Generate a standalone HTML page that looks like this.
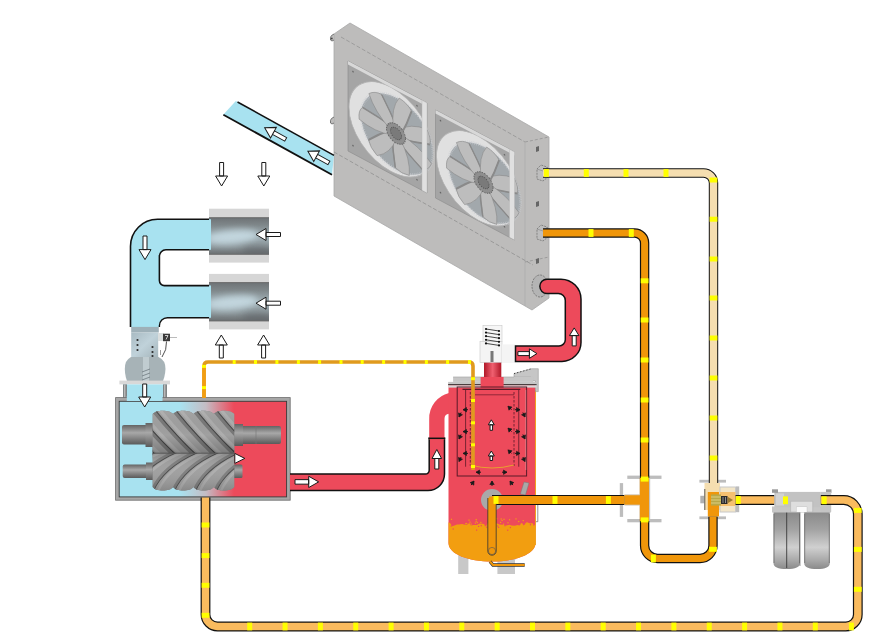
<!DOCTYPE html>
<html><head><meta charset="utf-8"><style>
html,body{margin:0;padding:0;background:#fff;width:880px;height:640px;overflow:hidden}
svg{display:block}
</style></head><body>
<svg width="880" height="640" viewBox="0 0 880 640">
<defs>
<linearGradient id="hgrad" x1="115" x2="290" y1="0" y2="0" gradientUnits="userSpaceOnUse">
<stop offset="0" stop-color="#a8e2f0"/><stop offset="0.37" stop-color="#a8e2f0"/>
<stop offset="0.52" stop-color="#c4bcc4"/><stop offset="0.68" stop-color="#ed4a5b"/><stop offset="1" stop-color="#ed4a5b"/>
</linearGradient>
<linearGradient id="rotor" x1="0" x2="0" y1="0" y2="1">
<stop offset="0" stop-color="#747474"/><stop offset="0.35" stop-color="#9c9c9c"/><stop offset="0.7" stop-color="#707070"/><stop offset="1" stop-color="#5a5a5a"/>
</linearGradient>
<linearGradient id="shaft" x1="0" x2="0" y1="0" y2="1">
<stop offset="0" stop-color="#646464"/><stop offset="0.4" stop-color="#a8a8a8"/><stop offset="1" stop-color="#5a5a5a"/>
</linearGradient>
<linearGradient id="filt" x1="0" x2="0" y1="0" y2="1">
<stop offset="0" stop-color="#6e7376"/><stop offset="0.2" stop-color="#7f878a"/><stop offset="0.5" stop-color="#a2b2b8"/><stop offset="0.8" stop-color="#8a9498"/><stop offset="1" stop-color="#6a6e70"/>
</linearGradient>
<linearGradient id="can" x1="0" x2="0" y1="0" y2="1">
<stop offset="0" stop-color="#8a8a8a"/><stop offset="0.3" stop-color="#a2a2a2"/><stop offset="0.62" stop-color="#d0d0d0"/><stop offset="0.85" stop-color="#a8a8a8"/><stop offset="1" stop-color="#8a8a8a"/>
</linearGradient>
<linearGradient id="valv" x1="0" x2="1" y1="0" y2="1">
<stop offset="0" stop-color="#a8bac2"/><stop offset="0.5" stop-color="#c0d2da"/><stop offset="1" stop-color="#a4b4ba"/>
</linearGradient>
<linearGradient id="redcyl" x1="0" x2="1" y1="0" y2="0">
<stop offset="0" stop-color="#b01828"/><stop offset="0.5" stop-color="#f06070"/><stop offset="1" stop-color="#b01828"/>
</linearGradient>
<linearGradient id="rshade" x1="0" x2="0" y1="0" y2="1">
<stop offset="0" stop-color="#fff" stop-opacity="0.12"/><stop offset="0.6" stop-color="#000" stop-opacity="0"/><stop offset="1" stop-color="#000" stop-opacity="0.25"/>
</linearGradient>
<linearGradient id="rshade2" x1="0" x2="0" y1="0" y2="1">
<stop offset="0" stop-color="#000" stop-opacity="0.2"/><stop offset="0.4" stop-color="#fff" stop-opacity="0.05"/><stop offset="1" stop-color="#000" stop-opacity="0.2"/>
</linearGradient>
<filter id="blur3" x="-50%" y="-50%" width="200%" height="200%"><feGaussianBlur stdDeviation="3"/></filter>
</defs>
<polygon points="334,34 350,23 549,137 549,298 532,310 334,196" fill="#bdbcbb"/>
<polyline points="334,34 350,23 549,137 549,298 532,310 334,196 334,34" fill="none" stroke="#a8a8a8" stroke-width="0.8"/>
<line x1="341" y1="37" x2="525" y2="142" stroke="#8e8e8e" stroke-width="0.7" stroke-dasharray="4,2"/>
<line x1="525" y1="142" x2="549" y2="137" stroke="#8e8e8e" stroke-width="0.7" stroke-dasharray="3,2"/>
<line x1="525" y1="142" x2="525" y2="306" stroke="#acacac" stroke-width="0.8"/>
<line x1="334" y1="152" x2="533" y2="265" stroke="#8a8a8a" stroke-width="0.7" stroke-dasharray="4,2"/>
<line x1="525" y1="262" x2="549" y2="257" stroke="#8e8e8e" stroke-width="0.7" stroke-dasharray="3,2"/>
<path d="M334,34 L331.5,35.5 Q330,37 330.5,40 L332,41 L334,40" fill="#bdbcbb" stroke="#6a6a6a" stroke-width="0.9"/>
<circle cx="331.8" cy="38.5" r="0.9" fill="#444"/>
<path d="M334,117 L331.5,118.5 Q330,120 330.5,123 L332,124 L334,123" fill="#bdbcbb" stroke="#6a6a6a" stroke-width="0.9"/>
<g transform="translate(348,61) skewY(28)"><rect x="0" y="0" width="79" height="90" fill="#a5a5a5" stroke="#8e8e8e" stroke-width="0.6"/><circle cx="5" cy="8" r="0.8" fill="#666"/><circle cx="5" cy="82" r="0.8" fill="#666"/><circle cx="69" cy="8" r="0.8" fill="#666"/><circle cx="69" cy="82" r="0.8" fill="#666"/><circle cx="39.5" cy="4" r="0.8" fill="#666"/><circle cx="43" cy="45.5" r="42" fill="#e0e0e0" stroke="#b4b4b4" stroke-width="0.8"/><circle cx="49" cy="47.0" r="36" fill="#a2a8ac"/><circle cx="49" cy="47.0" r="36" fill="none" stroke="#c8ccd0" stroke-width="3" stroke-dasharray="1,1.2" opacity="0.6"/><path d="M3,-4 Q18.900000000000002,-14 35.28,-12 Q37.800000000000004,-4 34.44,2 Q18.900000000000002,4 3,4 Z" fill="#bdbdbd" stroke="#858585" stroke-width="0.5" transform="translate(48,47.0) rotate(-15.0)"/><path d="M3,4 Q18.900000000000002,4 34.44,2" fill="none" stroke="#8a8a8a" stroke-width="1.6" transform="translate(48,47.0) rotate(-15.0)"/><path d="M3,-4 Q18.900000000000002,-14 35.28,-12 Q37.800000000000004,-4 34.44,2 Q18.900000000000002,4 3,4 Z" fill="#bdbdbd" stroke="#858585" stroke-width="0.5" transform="translate(48,47.0) rotate(36.42857142857143)"/><path d="M3,4 Q18.900000000000002,4 34.44,2" fill="none" stroke="#8a8a8a" stroke-width="1.6" transform="translate(48,47.0) rotate(36.42857142857143)"/><path d="M3,-4 Q18.900000000000002,-14 35.28,-12 Q37.800000000000004,-4 34.44,2 Q18.900000000000002,4 3,4 Z" fill="#bdbdbd" stroke="#858585" stroke-width="0.5" transform="translate(48,47.0) rotate(87.85714285714286)"/><path d="M3,4 Q18.900000000000002,4 34.44,2" fill="none" stroke="#8a8a8a" stroke-width="1.6" transform="translate(48,47.0) rotate(87.85714285714286)"/><path d="M3,-4 Q18.900000000000002,-14 35.28,-12 Q37.800000000000004,-4 34.44,2 Q18.900000000000002,4 3,4 Z" fill="#bdbdbd" stroke="#858585" stroke-width="0.5" transform="translate(48,47.0) rotate(139.28571428571428)"/><path d="M3,4 Q18.900000000000002,4 34.44,2" fill="none" stroke="#8a8a8a" stroke-width="1.6" transform="translate(48,47.0) rotate(139.28571428571428)"/><path d="M3,-4 Q18.900000000000002,-14 35.28,-12 Q37.800000000000004,-4 34.44,2 Q18.900000000000002,4 3,4 Z" fill="#bdbdbd" stroke="#858585" stroke-width="0.5" transform="translate(48,47.0) rotate(190.71428571428572)"/><path d="M3,4 Q18.900000000000002,4 34.44,2" fill="none" stroke="#8a8a8a" stroke-width="1.6" transform="translate(48,47.0) rotate(190.71428571428572)"/><path d="M3,-4 Q18.900000000000002,-14 35.28,-12 Q37.800000000000004,-4 34.44,2 Q18.900000000000002,4 3,4 Z" fill="#bdbdbd" stroke="#858585" stroke-width="0.5" transform="translate(48,47.0) rotate(242.14285714285717)"/><path d="M3,4 Q18.900000000000002,4 34.44,2" fill="none" stroke="#8a8a8a" stroke-width="1.6" transform="translate(48,47.0) rotate(242.14285714285717)"/><path d="M3,-4 Q18.900000000000002,-14 35.28,-12 Q37.800000000000004,-4 34.44,2 Q18.900000000000002,4 3,4 Z" fill="#bdbdbd" stroke="#858585" stroke-width="0.5" transform="translate(48,47.0) rotate(293.57142857142856)"/><path d="M3,4 Q18.900000000000002,4 34.44,2" fill="none" stroke="#8a8a8a" stroke-width="1.6" transform="translate(48,47.0) rotate(293.57142857142856)"/><circle cx="48" cy="47.0" r="9.5" fill="#8e8e8e" stroke="#666" stroke-width="1" stroke-dasharray="1.5,1"/><circle cx="48" cy="47.0" r="5.5" fill="#7a7a7a" stroke="#4e4e4e" stroke-width="0.9" stroke-dasharray="1,1"/><rect x="0" y="0" width="79" height="3.5" fill="#d8d8d8"/><rect x="74" y="0" width="5" height="90" fill="#e0e0e0" stroke="#b8b8b8" stroke-width="0.4"/></g>
<g transform="translate(435.5,110) skewY(28)"><rect x="0" y="0" width="79" height="88" fill="#a5a5a5" stroke="#8e8e8e" stroke-width="0.6"/><circle cx="5" cy="8" r="0.8" fill="#666"/><circle cx="5" cy="80" r="0.8" fill="#666"/><circle cx="69" cy="8" r="0.8" fill="#666"/><circle cx="69" cy="80" r="0.8" fill="#666"/><circle cx="39.5" cy="4" r="0.8" fill="#666"/><circle cx="43" cy="45.5" r="42" fill="#e0e0e0" stroke="#b4b4b4" stroke-width="0.8"/><circle cx="49" cy="47.0" r="36" fill="#a2a8ac"/><circle cx="49" cy="47.0" r="36" fill="none" stroke="#c8ccd0" stroke-width="3" stroke-dasharray="1,1.2" opacity="0.6"/><path d="M3,-4 Q18.900000000000002,-14 35.28,-12 Q37.800000000000004,-4 34.44,2 Q18.900000000000002,4 3,4 Z" fill="#bdbdbd" stroke="#858585" stroke-width="0.5" transform="translate(48,47.0) rotate(-15.0)"/><path d="M3,4 Q18.900000000000002,4 34.44,2" fill="none" stroke="#8a8a8a" stroke-width="1.6" transform="translate(48,47.0) rotate(-15.0)"/><path d="M3,-4 Q18.900000000000002,-14 35.28,-12 Q37.800000000000004,-4 34.44,2 Q18.900000000000002,4 3,4 Z" fill="#bdbdbd" stroke="#858585" stroke-width="0.5" transform="translate(48,47.0) rotate(36.42857142857143)"/><path d="M3,4 Q18.900000000000002,4 34.44,2" fill="none" stroke="#8a8a8a" stroke-width="1.6" transform="translate(48,47.0) rotate(36.42857142857143)"/><path d="M3,-4 Q18.900000000000002,-14 35.28,-12 Q37.800000000000004,-4 34.44,2 Q18.900000000000002,4 3,4 Z" fill="#bdbdbd" stroke="#858585" stroke-width="0.5" transform="translate(48,47.0) rotate(87.85714285714286)"/><path d="M3,4 Q18.900000000000002,4 34.44,2" fill="none" stroke="#8a8a8a" stroke-width="1.6" transform="translate(48,47.0) rotate(87.85714285714286)"/><path d="M3,-4 Q18.900000000000002,-14 35.28,-12 Q37.800000000000004,-4 34.44,2 Q18.900000000000002,4 3,4 Z" fill="#bdbdbd" stroke="#858585" stroke-width="0.5" transform="translate(48,47.0) rotate(139.28571428571428)"/><path d="M3,4 Q18.900000000000002,4 34.44,2" fill="none" stroke="#8a8a8a" stroke-width="1.6" transform="translate(48,47.0) rotate(139.28571428571428)"/><path d="M3,-4 Q18.900000000000002,-14 35.28,-12 Q37.800000000000004,-4 34.44,2 Q18.900000000000002,4 3,4 Z" fill="#bdbdbd" stroke="#858585" stroke-width="0.5" transform="translate(48,47.0) rotate(190.71428571428572)"/><path d="M3,4 Q18.900000000000002,4 34.44,2" fill="none" stroke="#8a8a8a" stroke-width="1.6" transform="translate(48,47.0) rotate(190.71428571428572)"/><path d="M3,-4 Q18.900000000000002,-14 35.28,-12 Q37.800000000000004,-4 34.44,2 Q18.900000000000002,4 3,4 Z" fill="#bdbdbd" stroke="#858585" stroke-width="0.5" transform="translate(48,47.0) rotate(242.14285714285717)"/><path d="M3,4 Q18.900000000000002,4 34.44,2" fill="none" stroke="#8a8a8a" stroke-width="1.6" transform="translate(48,47.0) rotate(242.14285714285717)"/><path d="M3,-4 Q18.900000000000002,-14 35.28,-12 Q37.800000000000004,-4 34.44,2 Q18.900000000000002,4 3,4 Z" fill="#bdbdbd" stroke="#858585" stroke-width="0.5" transform="translate(48,47.0) rotate(293.57142857142856)"/><path d="M3,4 Q18.900000000000002,4 34.44,2" fill="none" stroke="#8a8a8a" stroke-width="1.6" transform="translate(48,47.0) rotate(293.57142857142856)"/><circle cx="48" cy="47.0" r="9.5" fill="#8e8e8e" stroke="#666" stroke-width="1" stroke-dasharray="1.5,1"/><circle cx="48" cy="47.0" r="5.5" fill="#7a7a7a" stroke="#4e4e4e" stroke-width="0.9" stroke-dasharray="1,1"/><rect x="0" y="0" width="79" height="3.5" fill="#d8d8d8"/><rect x="74" y="0" width="5" height="88" fill="#e0e0e0" stroke="#b8b8b8" stroke-width="0.4"/></g>
<path d="M537,169 L541,165 L547,167 L548,177 L543,181 L537,179 Z" fill="#bdbdbd" stroke="#6a6a6a" stroke-width="0.7" stroke-dasharray="2,1"/>
<path d="M537,169 L543,171 L548,167" fill="none" stroke="#7a7a7a" stroke-width="0.5"/>
<path d="M537,229 L541,225 L547,227 L548,237 L543,241 L537,239 Z" fill="#bdbdbd" stroke="#6a6a6a" stroke-width="0.7" stroke-dasharray="2,1"/>
<path d="M537,229 L543,231 L548,227" fill="none" stroke="#7a7a7a" stroke-width="0.5"/>
<ellipse cx="540" cy="286" rx="8" ry="11" fill="#b4b4b4" stroke="#6a6a6a" stroke-width="0.8" stroke-dasharray="2,1"/>
<path d="M536,147 l3,-1 v5 l-3,1 z" fill="#666"/>
<path d="M536,202 l3,-1 v5 l-3,1 z" fill="#666"/>
<path d="M536,259 l3,-1 v5 l-3,1 z" fill="#666"/>
<polygon points="223.2,114.7 235.8,101.1 334,155 332,174.7" fill="#a8e2f0"/>
<line x1="237.5" y1="102" x2="334" y2="155.3" stroke="#111" stroke-width="1.5"/>
<line x1="223.4" y1="114.7" x2="332" y2="174.7" stroke="#111" stroke-width="1.8"/>
<path d="M0,0 L-10,-6.0 L-10,6.0 Z M-10,-2.0 L-24,-2.0 L-24,2.0 L-10,2.0 Z" transform="translate(264.7,127.8) rotate(208.95873278293766)" fill="#fff" stroke="#1a1a1a" stroke-width="1" stroke-linejoin="miter"/>
<path d="M0,0 L-10,-6.0 L-10,6.0 Z M-10,-2.0 L-24,-2.0 L-24,2.0 L-10,2.0 Z" transform="translate(307.9,151.3) rotate(208.95873278293766)" fill="#fff" stroke="#1a1a1a" stroke-width="1" stroke-linejoin="miter"/>
<clipPath id="fc208"><rect x="209" y="217.7" width="60" height="36.70000000000002"/></clipPath>
<rect x="209" y="208.7" width="60" height="53.900000000000034" fill="#d6d6d6"/>
<rect x="209" y="217.7" width="60" height="36.70000000000002" fill="url(#filt)"/>
<g clip-path="url(#fc208)"><ellipse cx="232" cy="237.05" rx="26" ry="7" fill="#c8dce4" opacity="0.85" filter="url(#blur3)" transform="rotate(-6 232 236.05)"/><ellipse cx="258" cy="251.4" rx="16" ry="5" fill="#5e6468" opacity="0.6" filter="url(#blur3)"/></g>
<line x1="209" y1="217.7" x2="269" y2="217.7" stroke="#5a5a5a" stroke-width="0.8"/>
<line x1="209" y1="254.4" x2="269" y2="254.4" stroke="#6a6a6a" stroke-width="0.8"/>
<clipPath id="fc273"><rect x="209" y="282.6" width="60" height="38.39999999999998"/></clipPath>
<rect x="209" y="273.9" width="60" height="55.5" fill="#d6d6d6"/>
<rect x="209" y="282.6" width="60" height="38.39999999999998" fill="url(#filt)"/>
<g clip-path="url(#fc273)"><ellipse cx="232" cy="302.8" rx="26" ry="7" fill="#c8dce4" opacity="0.85" filter="url(#blur3)" transform="rotate(-6 232 301.8)"/><ellipse cx="258" cy="318" rx="16" ry="5" fill="#5e6468" opacity="0.6" filter="url(#blur3)"/></g>
<line x1="209" y1="282.6" x2="269" y2="282.6" stroke="#5a5a5a" stroke-width="0.8"/>
<line x1="209" y1="321" x2="269" y2="321" stroke="#6a6a6a" stroke-width="0.8"/>
<path d="M211,219.3 H157.5 A27,27 0 0 0 130.5,246.3 V327 H159.4 V325.7 A8,8 0 0 1 167.4,317.7 H211 V285.6 H164.4 A5,5 0 0 1 159.4,280.6 V256.3 A6.5,6.5 0 0 1 165.9,249.8 H211 Z" fill="#a8e2f0"/>
<path d="M209,219.3 H157.5 A27,27 0 0 0 130.5,246.3 V327" fill="none" stroke="#111" stroke-width="1.6"/>
<path d="M209,249.8 H165.9 A6.5,6.5 0 0 0 159.4,256.3 V280.6 A5,5 0 0 0 164.4,285.6 H209" fill="none" stroke="#111" stroke-width="1.6"/>
<path d="M159.4,327 V325.7 A8,8 0 0 1 167.4,317.7 H209" fill="none" stroke="#111" stroke-width="1.4"/>
<path d="M0,0 L-10,-6.0 L-10,6.0 Z M-10,-2.0 L-23.5,-2.0 L-23.5,2.0 L-10,2.0 Z" transform="translate(221.6,186) rotate(90)" fill="#fff" stroke="#1a1a1a" stroke-width="1" stroke-linejoin="miter"/>
<path d="M0,0 L-10,-6.0 L-10,6.0 Z M-10,-2.0 L-23.5,-2.0 L-23.5,2.0 L-10,2.0 Z" transform="translate(263.8,186) rotate(90)" fill="#fff" stroke="#1a1a1a" stroke-width="1" stroke-linejoin="miter"/>
<path d="M0,0 L-10,-6.0 L-10,6.0 Z M-10,-2.0 L-23,-2.0 L-23,2.0 L-10,2.0 Z" transform="translate(221.3,335) rotate(-90)" fill="#fff" stroke="#1a1a1a" stroke-width="1" stroke-linejoin="miter"/>
<path d="M0,0 L-10,-6.0 L-10,6.0 Z M-10,-2.0 L-23,-2.0 L-23,2.0 L-10,2.0 Z" transform="translate(263.6,335) rotate(-90)" fill="#fff" stroke="#1a1a1a" stroke-width="1" stroke-linejoin="miter"/>
<path d="M0,0 L-10,-6.0 L-10,6.0 Z M-10,-2.0 L-24.5,-2.0 L-24.5,2.0 L-10,2.0 Z" transform="translate(256,234.5) rotate(180)" fill="#fff" stroke="#1a1a1a" stroke-width="1" stroke-linejoin="miter"/>
<path d="M0,0 L-10,-6.0 L-10,6.0 Z M-10,-2.0 L-24.5,-2.0 L-24.5,2.0 L-10,2.0 Z" transform="translate(256,303.2) rotate(180)" fill="#fff" stroke="#1a1a1a" stroke-width="1" stroke-linejoin="miter"/>
<path d="M0,0 L-10,-6.0 L-10,6.0 Z M-10,-2.0 L-23.6,-2.0 L-23.6,2.0 L-10,2.0 Z" transform="translate(145,259.6) rotate(90)" fill="#fff" stroke="#1a1a1a" stroke-width="1" stroke-linejoin="miter"/>
<rect x="131.2" y="326.9" width="27.6" height="5.6" fill="#9eb0b8"/>
<rect x="131.2" y="332.5" width="27" height="25" fill="url(#valv)"/>
<path d="M131,357 H158.5 Q165.5,360 165.5,369 Q165,378 161.5,384 H128.5 Q125,378 124.8,369 Q124.8,360 131,357 Z" fill="#a7b3b7"/>
<path d="M143,357 H149 V384 H143 Z" fill="#c0ccd0"/>
<path d="M142,372 l8,-3 M142,376 l8,-3 M142,380 l8,-3" stroke="#6e7a80" stroke-width="0.8"/>
<circle cx="137.5" cy="340" r="1.1" fill="#2a2a2a"/>
<circle cx="137.5" cy="345" r="1.1" fill="#2a2a2a"/>
<circle cx="137.5" cy="350" r="1.1" fill="#2a2a2a"/>
<circle cx="152.5" cy="347" r="1.1" fill="#2a2a2a"/>
<circle cx="152.5" cy="352" r="1.1" fill="#2a2a2a"/>
<circle cx="152.5" cy="356" r="1.1" fill="#2a2a2a"/>
<rect x="158" y="333" width="5.8" height="8" fill="#dadede"/><rect x="163" y="333.7" width="7" height="7.5" fill="#3a3a3a"/>
<path d="M165,335.5 h3 l-2,4" fill="none" stroke="#eee" stroke-width="0.8"/><path d="M170,337.5 h7" stroke="#bbb" stroke-width="1"/>
<path d="M166.5,341.5 Q167,350 162,357" fill="none" stroke="#222" stroke-width="0.8"/>
<path d="M160.5,350 v5" stroke="#555" stroke-width="0.6"/>
<rect x="119.4" y="380.6" width="50.6" height="3.8" fill="#d8d8d8"/>
<rect x="123.1" y="384.4" width="43.8" height="16" fill="#a8e2f0"/>
<rect x="123.1" y="384.4" width="3.8" height="15" fill="#7a7a7a"/><rect x="163.1" y="384.4" width="3.8" height="15" fill="#7a7a7a"/>
<rect x="124.2" y="384.4" width="1.2" height="15" fill="#c8c8c8"/><rect x="164.2" y="384.4" width="1.2" height="15" fill="#c8c8c8"/>
<rect x="115.6" y="397.6" width="174.6" height="102.6" fill="#a6a6a6" stroke="#6e6e6e" stroke-width="0.8"/>
<rect x="119.2" y="401.3" width="167.4" height="95.6" fill="url(#hgrad)" stroke="#3a3a3a" stroke-width="0.9"/>
<rect x="126.8" y="396" width="35.7" height="5" fill="#a8e2f0"/>
<path d="M0,0 L-10,-6.0 L-10,6.0 Z M-10,-2.0 L-23,-2.0 L-23,2.0 L-10,2.0 Z" transform="translate(144.7,407) rotate(90)" fill="#fff" stroke="#1a1a1a" stroke-width="1" stroke-linejoin="miter"/>
<rect x="122" y="425" width="26" height="19.5" rx="2" fill="url(#shaft)"/>
<rect x="145.5" y="423" width="8" height="24" fill="url(#shaft)"/>
<rect x="240" y="426" width="41" height="18" rx="2" fill="url(#shaft)"/>
<rect x="233" y="424" width="10" height="22" fill="url(#shaft)"/>
<line x1="256" y1="426" x2="256" y2="444" stroke="#777" stroke-width="0.6"/>
<rect x="122.7" y="464.5" width="26" height="13.5" rx="2" fill="url(#shaft)"/>
<rect x="146" y="462.5" width="7" height="17.5" fill="url(#shaft)"/>
<rect x="233" y="464.5" width="9.5" height="13.5" rx="1.5" fill="url(#shaft)"/>
<clipPath id="rc1"><path d="M152.7,414 C155.75625,409.5 170.01874999999998,409.5 173.075,414 C176.13125,409.5 190.39374999999998,409.5 193.45,414 C196.50625,409.5 210.76874999999998,409.5 213.825,414 C216.88125,409.5 231.14374999999998,409.5 234.2,414 V453.5 H152.7 Z"/></clipPath>
<clipPath id="rc2"><path d="M152.7,453 H234.2 V487 C231.14374999999998,491.8 216.88125,491.8 213.825,487 C210.76874999999998,491.8 196.50625,491.8 193.45,487 C190.39374999999998,491.8 176.13125,491.8 173.075,487 C170.01874999999998,491.8 155.75625,491.8 152.7,487 Z"/></clipPath>
<path d="M152.7,414 C155.75625,409.5 170.01874999999998,409.5 173.075,414 C176.13125,409.5 190.39374999999998,409.5 193.45,414 C196.50625,409.5 210.76874999999998,409.5 213.825,414 C216.88125,409.5 231.14374999999998,409.5 234.2,414 V453.5 H152.7 Z" fill="#808080"/>
<path d="M152.7,453 H234.2 V487 C231.14374999999998,491.8 216.88125,491.8 213.825,487 C210.76874999999998,491.8 196.50625,491.8 193.45,487 C190.39374999999998,491.8 176.13125,491.8 173.075,487 C170.01874999999998,491.8 155.75625,491.8 152.7,487 Z" fill="#7c7c7c"/>
<g clip-path="url(#rc1)"><path d="M91.5,406 C101.5,418 115.5,436 137.5,456 L157.5,456 C135.5,436 121.5,418 111.5,406 Z" fill="#a0a0a0"/><path d="M95.5,406 C105.5,418 119.5,436 141.5,456" fill="none" stroke="#b4b4b4" stroke-width="3" opacity="0.7"/><path d="M111.5,406 C121.5,418 135.5,436 157.5,456" fill="none" stroke="#5e5e5e" stroke-width="8" opacity="0.6"/><path d="M111.5,406 C121.5,418 135.5,436 157.5,456" fill="none" stroke="#444" stroke-width="1.8"/><path d="M111.89999999999999,406 C121.89999999999999,418 135.89999999999998,436 157.89999999999998,456 L177.89999999999998,456 C155.89999999999998,436 141.89999999999998,418 131.89999999999998,406 Z" fill="#a0a0a0"/><path d="M115.89999999999999,406 C125.89999999999999,418 139.89999999999998,436 161.89999999999998,456" fill="none" stroke="#b4b4b4" stroke-width="3" opacity="0.7"/><path d="M131.89999999999998,406 C141.89999999999998,418 155.89999999999998,436 177.89999999999998,456" fill="none" stroke="#5e5e5e" stroke-width="8" opacity="0.6"/><path d="M131.89999999999998,406 C141.89999999999998,418 155.89999999999998,436 177.89999999999998,456" fill="none" stroke="#444" stroke-width="1.8"/><path d="M132.29999999999998,406 C142.29999999999998,418 156.29999999999998,436 178.29999999999998,456 L198.29999999999998,456 C176.29999999999998,436 162.29999999999998,418 152.29999999999998,406 Z" fill="#a0a0a0"/><path d="M136.29999999999998,406 C146.29999999999998,418 160.29999999999998,436 182.29999999999998,456" fill="none" stroke="#b4b4b4" stroke-width="3" opacity="0.7"/><path d="M152.29999999999998,406 C162.29999999999998,418 176.29999999999998,436 198.29999999999998,456" fill="none" stroke="#5e5e5e" stroke-width="8" opacity="0.6"/><path d="M152.29999999999998,406 C162.29999999999998,418 176.29999999999998,436 198.29999999999998,456" fill="none" stroke="#444" stroke-width="1.8"/><path d="M152.7,406 C162.7,418 176.7,436 198.7,456 L218.7,456 C196.7,436 182.7,418 172.7,406 Z" fill="#a0a0a0"/><path d="M156.7,406 C166.7,418 180.7,436 202.7,456" fill="none" stroke="#b4b4b4" stroke-width="3" opacity="0.7"/><path d="M172.7,406 C182.7,418 196.7,436 218.7,456" fill="none" stroke="#5e5e5e" stroke-width="8" opacity="0.6"/><path d="M172.7,406 C182.7,418 196.7,436 218.7,456" fill="none" stroke="#444" stroke-width="1.8"/><path d="M173.1,406 C183.1,418 197.1,436 219.1,456 L239.1,456 C217.1,436 203.1,418 193.1,406 Z" fill="#a0a0a0"/><path d="M177.1,406 C187.1,418 201.1,436 223.1,456" fill="none" stroke="#b4b4b4" stroke-width="3" opacity="0.7"/><path d="M193.1,406 C203.1,418 217.1,436 239.1,456" fill="none" stroke="#5e5e5e" stroke-width="8" opacity="0.6"/><path d="M193.1,406 C203.1,418 217.1,436 239.1,456" fill="none" stroke="#444" stroke-width="1.8"/><path d="M193.5,406 C203.5,418 217.5,436 239.5,456 L259.5,456 C237.5,436 223.5,418 213.5,406 Z" fill="#a0a0a0"/><path d="M197.5,406 C207.5,418 221.5,436 243.5,456" fill="none" stroke="#b4b4b4" stroke-width="3" opacity="0.7"/><path d="M213.5,406 C223.5,418 237.5,436 259.5,456" fill="none" stroke="#5e5e5e" stroke-width="8" opacity="0.6"/><path d="M213.5,406 C223.5,418 237.5,436 259.5,456" fill="none" stroke="#444" stroke-width="1.8"/><path d="M213.89999999999998,406 C223.89999999999998,418 237.89999999999998,436 259.9,456 L279.9,456 C257.9,436 243.89999999999998,418 233.89999999999998,406 Z" fill="#a0a0a0"/><path d="M217.89999999999998,406 C227.89999999999998,418 241.89999999999998,436 263.9,456" fill="none" stroke="#b4b4b4" stroke-width="3" opacity="0.7"/><path d="M233.89999999999998,406 C243.89999999999998,418 257.9,436 279.9,456" fill="none" stroke="#5e5e5e" stroke-width="8" opacity="0.6"/><path d="M233.89999999999998,406 C243.89999999999998,418 257.9,436 279.9,456" fill="none" stroke="#444" stroke-width="1.8"/><path d="M234.29999999999998,406 C244.29999999999998,418 258.29999999999995,436 280.29999999999995,456 L300.29999999999995,456 C278.29999999999995,436 264.29999999999995,418 254.29999999999998,406 Z" fill="#a0a0a0"/><path d="M238.29999999999998,406 C248.29999999999998,418 262.29999999999995,436 284.29999999999995,456" fill="none" stroke="#b4b4b4" stroke-width="3" opacity="0.7"/><path d="M254.29999999999998,406 C264.29999999999995,418 278.29999999999995,436 300.29999999999995,456" fill="none" stroke="#5e5e5e" stroke-width="8" opacity="0.6"/><path d="M254.29999999999998,406 C264.29999999999995,418 278.29999999999995,436 300.29999999999995,456" fill="none" stroke="#444" stroke-width="1.8"/><path d="M254.7,406 C264.7,418 278.7,436 300.7,456 L320.7,456 C298.7,436 284.7,418 274.7,406 Z" fill="#a0a0a0"/><path d="M258.7,406 C268.7,418 282.7,436 304.7,456" fill="none" stroke="#b4b4b4" stroke-width="3" opacity="0.7"/><path d="M274.7,406 C284.7,418 298.7,436 320.7,456" fill="none" stroke="#5e5e5e" stroke-width="8" opacity="0.6"/><path d="M274.7,406 C284.7,418 298.7,436 320.7,456" fill="none" stroke="#444" stroke-width="1.8"/><rect x="150" y="405" width="90" height="50" fill="url(#rshade)"/></g>
<g clip-path="url(#rc2)"><path d="M89.69999999999999,494 C95.69999999999999,478 111.69999999999999,462 139.7,451 L160.7,451 C132.7,462 116.69999999999999,478 110.69999999999999,494 Z" fill="#9c9c9c"/><path d="M93.69999999999999,494 C99.69999999999999,478 115.69999999999999,462 143.7,451" fill="none" stroke="#b2b2b2" stroke-width="2.5" opacity="0.7"/><path d="M110.69999999999999,494 C116.69999999999999,478 132.7,462 160.7,451" fill="none" stroke="#5e5e5e" stroke-width="7" opacity="0.55"/><path d="M110.69999999999999,494 C116.69999999999999,478 132.7,462 160.7,451" fill="none" stroke="#444" stroke-width="1.6"/><path d="M110.69999999999999,494 C116.69999999999999,478 132.7,462 160.7,451 L181.7,451 C153.7,462 137.7,478 131.7,494 Z" fill="#9c9c9c"/><path d="M114.69999999999999,494 C120.69999999999999,478 136.7,462 164.7,451" fill="none" stroke="#b2b2b2" stroke-width="2.5" opacity="0.7"/><path d="M131.7,494 C137.7,478 153.7,462 181.7,451" fill="none" stroke="#5e5e5e" stroke-width="7" opacity="0.55"/><path d="M131.7,494 C137.7,478 153.7,462 181.7,451" fill="none" stroke="#444" stroke-width="1.6"/><path d="M131.7,494 C137.7,478 153.7,462 181.7,451 L202.7,451 C174.7,462 158.7,478 152.7,494 Z" fill="#9c9c9c"/><path d="M135.7,494 C141.7,478 157.7,462 185.7,451" fill="none" stroke="#b2b2b2" stroke-width="2.5" opacity="0.7"/><path d="M152.7,494 C158.7,478 174.7,462 202.7,451" fill="none" stroke="#5e5e5e" stroke-width="7" opacity="0.55"/><path d="M152.7,494 C158.7,478 174.7,462 202.7,451" fill="none" stroke="#444" stroke-width="1.6"/><path d="M152.7,494 C158.7,478 174.7,462 202.7,451 L223.7,451 C195.7,462 179.7,478 173.7,494 Z" fill="#9c9c9c"/><path d="M156.7,494 C162.7,478 178.7,462 206.7,451" fill="none" stroke="#b2b2b2" stroke-width="2.5" opacity="0.7"/><path d="M173.7,494 C179.7,478 195.7,462 223.7,451" fill="none" stroke="#5e5e5e" stroke-width="7" opacity="0.55"/><path d="M173.7,494 C179.7,478 195.7,462 223.7,451" fill="none" stroke="#444" stroke-width="1.6"/><path d="M173.7,494 C179.7,478 195.7,462 223.7,451 L244.7,451 C216.7,462 200.7,478 194.7,494 Z" fill="#9c9c9c"/><path d="M177.7,494 C183.7,478 199.7,462 227.7,451" fill="none" stroke="#b2b2b2" stroke-width="2.5" opacity="0.7"/><path d="M194.7,494 C200.7,478 216.7,462 244.7,451" fill="none" stroke="#5e5e5e" stroke-width="7" opacity="0.55"/><path d="M194.7,494 C200.7,478 216.7,462 244.7,451" fill="none" stroke="#444" stroke-width="1.6"/><path d="M194.7,494 C200.7,478 216.7,462 244.7,451 L265.7,451 C237.7,462 221.7,478 215.7,494 Z" fill="#9c9c9c"/><path d="M198.7,494 C204.7,478 220.7,462 248.7,451" fill="none" stroke="#b2b2b2" stroke-width="2.5" opacity="0.7"/><path d="M215.7,494 C221.7,478 237.7,462 265.7,451" fill="none" stroke="#5e5e5e" stroke-width="7" opacity="0.55"/><path d="M215.7,494 C221.7,478 237.7,462 265.7,451" fill="none" stroke="#444" stroke-width="1.6"/><path d="M215.7,494 C221.7,478 237.7,462 265.7,451 L286.7,451 C258.7,462 242.7,478 236.7,494 Z" fill="#9c9c9c"/><path d="M219.7,494 C225.7,478 241.7,462 269.7,451" fill="none" stroke="#b2b2b2" stroke-width="2.5" opacity="0.7"/><path d="M236.7,494 C242.7,478 258.7,462 286.7,451" fill="none" stroke="#5e5e5e" stroke-width="7" opacity="0.55"/><path d="M236.7,494 C242.7,478 258.7,462 286.7,451" fill="none" stroke="#444" stroke-width="1.6"/><path d="M236.7,494 C242.7,478 258.7,462 286.7,451 L307.7,451 C279.7,462 263.7,478 257.7,494 Z" fill="#9c9c9c"/><path d="M240.7,494 C246.7,478 262.7,462 290.7,451" fill="none" stroke="#b2b2b2" stroke-width="2.5" opacity="0.7"/><path d="M257.7,494 C263.7,478 279.7,462 307.7,451" fill="none" stroke="#5e5e5e" stroke-width="7" opacity="0.55"/><path d="M257.7,494 C263.7,478 279.7,462 307.7,451" fill="none" stroke="#444" stroke-width="1.6"/><path d="M257.7,494 C263.7,478 279.7,462 307.7,451 L328.7,451 C300.7,462 284.7,478 278.7,494 Z" fill="#9c9c9c"/><path d="M261.7,494 C267.7,478 283.7,462 311.7,451" fill="none" stroke="#b2b2b2" stroke-width="2.5" opacity="0.7"/><path d="M278.7,494 C284.7,478 300.7,462 328.7,451" fill="none" stroke="#5e5e5e" stroke-width="7" opacity="0.55"/><path d="M278.7,494 C284.7,478 300.7,462 328.7,451" fill="none" stroke="#444" stroke-width="1.6"/><rect x="150" y="450" width="90" height="45" fill="url(#rshade2)"/></g>
<line x1="152.7" y1="453.2" x2="234.2" y2="453.2" stroke="#555" stroke-width="1"/>
<path d="M0,0 L-10,-5.0 L-10,5.0 Z" transform="translate(244.8,458.4) rotate(0)" fill="#fff" stroke="#1a1a1a" stroke-width="1" stroke-linejoin="miter"/>
<path d="M290,474 H425.5 A3.7,3.7 0 0 0 429.2,470.3 V438.3 H444.5 V474 A16.5,16.5 0 0 1 428,490.5 H290 Z" fill="#ed4a5b"/>
<path d="M290,474 H425.5 A3.7,3.7 0 0 0 429.2,470.3 V438.3 H444.5 V474 A16.5,16.5 0 0 1 428,490.5 H290" fill="none" stroke="#111" stroke-width="1.5"/>
<path d="M429.2,439.5 V419 A26,26 0 0 1 449,393 V413.7 A5,5 0 0 0 444.5,418.7 V439.5 Z" fill="#ed4a5b"/>
<line x1="428.5" y1="438.3" x2="445.2" y2="438.3" stroke="#111" stroke-width="1.5"/>
<path d="M0,0 L-10,-5.65 L-10,5.65 Z M-10,-2.25 L-23.7,-2.25 L-23.7,2.25 L-10,2.25 Z" transform="translate(318.7,481.9) rotate(0)" fill="#fff" stroke="#1a1a1a" stroke-width="1" stroke-linejoin="miter"/>
<path d="M0,0 L-9,-4.75 L-9,4.75 Z M-9,-2.0 L-19.5,-2.0 L-19.5,2.0 L-9,2.0 Z" transform="translate(436.8,449.5) rotate(-90)" fill="#fff" stroke="#1a1a1a" stroke-width="1" stroke-linejoin="miter"/>
<rect x="458.2" y="552" width="10.2" height="22" fill="#c8c8c8"/><rect x="497.4" y="555" width="17.6" height="19" fill="#c8c8c8"/>
<path d="M497.4,557 l3,-3 l2,3 l6,-4 l3,4 l4,-5 V560 H497.4 Z" fill="#c8c8c8"/>
<path d="M448.5,384 H535.5 V543 C535.5,554 516,561.5 492,561.5 C468,561.5 448.5,554 448.5,543 Z" fill="#ed4a5b"/>
<clipPath id="tankc"><path d="M448.5,384 H535.5 V543 C535.5,554 516,561.5 492,561.5 C468,561.5 448.5,554 448.5,543 Z"/></clipPath>
<g clip-path="url(#tankc)"><path d="M440,526 L440.0,522.8 L442.6,523.4 L445.3,524.6 L446.9,521.9 L450.1,522.9 L452.1,526.2 L454.5,525.5 L457.0,524.6 L458.8,524.6 L462.0,524.1 L465.0,524.8 L466.6,525.1 L469.3,523.1 L470.9,525.6 L473.3,525.0 L476.6,524.9 L479.9,523.5 L483.0,523.8 L486.4,525.7 L488.1,522.4 L490.0,526.0 L492.4,524.6 L494.5,524.0 L496.7,523.3 L499.4,524.4 L502.7,524.8 L506.1,525.6 L509.6,524.8 L511.4,525.6 L514.8,525.8 L517.5,524.9 L519.4,525.5 L522.0,523.1 L523.7,525.6 L527.1,522.2 L530.2,523.6 L532.0,523.1 L535.1,525.6 L536.7,524.5 L538.3,525.0 L540.4,525.7 L543.9,524.0 L546,524 V570 H440 Z" fill="#f29e10"/>
<g clip-path="url(#tankc)"><rect x="475.6" y="518.9" width="1.2" height="1.2" fill="#f29e10"/><rect x="500.6" y="518.4" width="1.2" height="1.2" fill="#f29e10"/><rect x="466.0" y="522.9" width="1.2" height="1.2" fill="#f29e10"/><rect x="501.5" y="519.9" width="1.2" height="1.2" fill="#f29e10"/><rect x="452.6" y="528.4" width="1.2" height="1.2" fill="#ed4a5b"/><rect x="476.0" y="529.5" width="1.2" height="1.2" fill="#ed4a5b"/><rect x="526.1" y="522.5" width="1.2" height="1.2" fill="#f29e10"/><rect x="488.6" y="524.2" width="1.2" height="1.2" fill="#ed4a5b"/><rect x="504.4" y="525.1" width="1.2" height="1.2" fill="#ed4a5b"/><rect x="497.1" y="525.4" width="1.2" height="1.2" fill="#ed4a5b"/><rect x="529.9" y="524.1" width="1.2" height="1.2" fill="#ed4a5b"/><rect x="486.1" y="526.6" width="1.2" height="1.2" fill="#ed4a5b"/><rect x="469.4" y="521.6" width="1.2" height="1.2" fill="#f29e10"/><rect x="533.1" y="524.3" width="1.2" height="1.2" fill="#ed4a5b"/><rect x="496.2" y="518.1" width="1.2" height="1.2" fill="#f29e10"/><rect x="484.7" y="525.0" width="1.2" height="1.2" fill="#ed4a5b"/><rect x="450.7" y="525.4" width="1.2" height="1.2" fill="#ed4a5b"/><rect x="503.4" y="518.7" width="1.2" height="1.2" fill="#f29e10"/><rect x="503.0" y="523.6" width="1.2" height="1.2" fill="#f29e10"/><rect x="507.4" y="522.2" width="1.2" height="1.2" fill="#f29e10"/><rect x="509.8" y="526.9" width="1.2" height="1.2" fill="#ed4a5b"/><rect x="450.9" y="518.7" width="1.2" height="1.2" fill="#f29e10"/><rect x="507.1" y="529.6" width="1.2" height="1.2" fill="#ed4a5b"/><rect x="470.6" y="523.5" width="1.2" height="1.2" fill="#f29e10"/><rect x="500.0" y="521.8" width="1.2" height="1.2" fill="#f29e10"/><rect x="480.3" y="521.8" width="1.2" height="1.2" fill="#f29e10"/><rect x="480.7" y="525.1" width="1.2" height="1.2" fill="#ed4a5b"/><rect x="474.8" y="522.5" width="1.2" height="1.2" fill="#f29e10"/><rect x="515.4" y="518.3" width="1.2" height="1.2" fill="#f29e10"/><rect x="498.0" y="526.8" width="1.2" height="1.2" fill="#ed4a5b"/><rect x="475.7" y="520.7" width="1.2" height="1.2" fill="#f29e10"/><rect x="518.1" y="520.9" width="1.2" height="1.2" fill="#f29e10"/><rect x="465.1" y="523.2" width="1.2" height="1.2" fill="#f29e10"/><rect x="509.0" y="519.2" width="1.2" height="1.2" fill="#f29e10"/><rect x="476.7" y="522.0" width="1.2" height="1.2" fill="#f29e10"/><rect x="520.7" y="523.3" width="1.2" height="1.2" fill="#f29e10"/><rect x="522.6" y="520.0" width="1.2" height="1.2" fill="#f29e10"/><rect x="478.0" y="525.8" width="1.2" height="1.2" fill="#ed4a5b"/><rect x="525.1" y="523.4" width="1.2" height="1.2" fill="#f29e10"/><rect x="468.4" y="519.5" width="1.2" height="1.2" fill="#f29e10"/></g></g>
<line x1="535.5" y1="390" x2="535.5" y2="545" stroke="#f0a020" stroke-width="1"/>
<path d="M490,561.5 L493,565 H524.7" fill="none" stroke="#333" stroke-width="3.4"/>
<path d="M490,561.5 L493,565 H524.7" fill="none" stroke="#f0960a" stroke-width="2"/>
<path d="M514,373.6 L531.6,368.7 H538.3 V391.6 H535.5 V381 H531 V377.2 H514 Z" fill="#c6c6c6" stroke="#8a8a8a" stroke-width="0.5"/>
<path d="M514,373.6 L531.6,368.7" stroke="#333" stroke-width="0.9" stroke-dasharray="1.2,2"/>
<rect x="453.1" y="376.9" width="80" height="5" fill="#c6c6c6"/>
<rect x="448.1" y="381.9" width="88.5" height="2.3" fill="#c6c6c6"/>
<rect x="448.1" y="384.1" width="88.5" height="1.2" fill="#3a3a3a"/>
<rect x="448.1" y="385.3" width="88.5" height="2.3" fill="#d8d8d8"/>
<line x1="453.1" y1="377" x2="514" y2="377" stroke="#9a9a9a" stroke-width="0.5"/>
<rect x="480.6" y="377" width="23" height="11" fill="#ed4a5b"/>
<rect x="484" y="362" width="17.3" height="15" fill="url(#redcyl)"/>
<rect x="480" y="341.3" width="22" height="21" fill="#f4f4f4" stroke="#c8c8c8" stroke-width="0.6"/>
<rect x="483" y="325.6" width="19" height="16" fill="#f6f6f6" stroke="#c8c8c8" stroke-width="0.6"/>
<path d="M486,329.0 L499,331.0" stroke="#333" stroke-width="0.9"/><circle cx="486" cy="329.0" r="1.1" fill="#111"/><circle cx="499" cy="331.0" r="1.1" fill="#111"/>
<path d="M486,332.6 L499,334.6" stroke="#333" stroke-width="0.9"/><circle cx="486" cy="332.6" r="1.1" fill="#111"/><circle cx="499" cy="334.6" r="1.1" fill="#111"/>
<path d="M486,336.2 L499,338.2" stroke="#333" stroke-width="0.9"/><circle cx="486" cy="336.2" r="1.1" fill="#111"/><circle cx="499" cy="338.2" r="1.1" fill="#111"/>
<path d="M486,339.8 L499,341.8" stroke="#333" stroke-width="0.9"/><circle cx="486" cy="339.8" r="1.1" fill="#111"/><circle cx="499" cy="341.8" r="1.1" fill="#111"/>
<path d="M486,343.4 L499,345.4" stroke="#333" stroke-width="0.9"/><circle cx="486" cy="343.4" r="1.1" fill="#111"/><circle cx="499" cy="345.4" r="1.1" fill="#111"/>
<rect x="490.5" y="351" width="3" height="11" fill="#777"/>
<rect x="502" y="344.4" width="13.6" height="18.6" fill="#f4f4f4"/>
<path d="M547,279.2 H561 A20,20 0 0 1 581,299.2 V342.4 A19,19 0 0 1 562,361.4 H515.5 V346 H559 A6.3,6.3 0 0 0 565.3,339.7 V300.5 A7,7 0 0 0 558.3,293.5 H547 A7,7 0 0 1 547,279.2 Z" fill="#ed4a5b" stroke="#111" stroke-width="1.5"/>
<path d="M0,0 L-7.5,-4.75 L-7.5,4.75 Z M-7.5,-2.0 L-19,-2.0 L-19,2.0 L-7.5,2.0 Z" transform="translate(536.9,353.6) rotate(0)" fill="#fff" stroke="#1a1a1a" stroke-width="1" stroke-linejoin="miter"/>
<path d="M0,0 L-7.7,-4.75 L-7.7,4.75 Z M-7.7,-2.0 L-18,-2.0 L-18,2.0 L-7.7,2.0 Z" transform="translate(574.2,327.9) rotate(-90)" fill="#fff" stroke="#1a1a1a" stroke-width="1" stroke-linejoin="miter"/>
<rect x="457.2" y="387" width="69.4" height="89" fill="none" stroke="#5a1a28" stroke-width="1"/>
<path d="M462.5,389.4 H520.3" stroke="#5a1a28" stroke-width="1.2"/>
<path d="M475,394.8 H514" stroke="#7a2030" stroke-width="0.8"/>
<path d="M465.6,390 V466.7 M518.75,390 V466.7" fill="none" stroke="#6a1e2c" stroke-width="0.9"/>
<path d="M470.3,392 V466 M514,392 V466" fill="none" stroke="#6a1e2c" stroke-width="0.9" stroke-dasharray="2.5,1.5"/>
<path d="M525.8,390 V470" fill="none" stroke="#d89aa0" stroke-width="0.6"/>
<path d="M470.3,465 Q492,471 514,465" fill="none" stroke="#e8a030" stroke-width="1"/>
<path d="M0,0 L-5,-3.0 L-5,3.0 Z M-5,-1.25 L-10.5,-1.25 L-10.5,1.25 L-5,1.25 Z" transform="translate(491.3,419.8) rotate(-90)" fill="#fff" stroke="#1a1a1a" stroke-width="1" stroke-linejoin="miter"/>
<path d="M0,0 L-5,-3.0 L-5,3.0 Z M-5,-1.25 L-9.5,-1.25 L-9.5,1.25 L-5,1.25 Z" transform="translate(491.3,451) rotate(-90)" fill="#fff" stroke="#1a1a1a" stroke-width="1" stroke-linejoin="miter"/>
<path d="M0,0 L-3.5,-2.2 L-3.5,2.2 Z" transform="translate(463,409.7) rotate(180)" fill="#1a1a1a" stroke="#1a1a1a" stroke-width="0.6"/><line x1="463" y1="409.7" x2="468.0" y2="409.7" stroke="#1a1a1a" stroke-width="1"/>
<path d="M0,0 L-3.5,-2.2 L-3.5,2.2 Z" transform="translate(520,409.7) rotate(0)" fill="#1a1a1a" stroke="#1a1a1a" stroke-width="0.6"/><line x1="520" y1="409.7" x2="515.0" y2="409.7" stroke="#1a1a1a" stroke-width="1"/>
<path d="M0,0 L-3.5,-2.2 L-3.5,2.2 Z" transform="translate(508,406.2) rotate(-135)" fill="#1a1a1a" stroke="#1a1a1a" stroke-width="0.6"/><line x1="508" y1="406.2" x2="511.5" y2="409.7" stroke="#1a1a1a" stroke-width="1"/>
<path d="M0,0 L-3.5,-2.2 L-3.5,2.2 Z" transform="translate(463,431.6) rotate(180)" fill="#1a1a1a" stroke="#1a1a1a" stroke-width="0.6"/><line x1="463" y1="431.6" x2="468.0" y2="431.6" stroke="#1a1a1a" stroke-width="1"/>
<path d="M0,0 L-3.5,-2.2 L-3.5,2.2 Z" transform="translate(520,431.6) rotate(0)" fill="#1a1a1a" stroke="#1a1a1a" stroke-width="0.6"/><line x1="520" y1="431.6" x2="515.0" y2="431.6" stroke="#1a1a1a" stroke-width="1"/>
<path d="M0,0 L-3.5,-2.2 L-3.5,2.2 Z" transform="translate(508,428.1) rotate(-135)" fill="#1a1a1a" stroke="#1a1a1a" stroke-width="0.6"/><line x1="508" y1="428.1" x2="511.5" y2="431.6" stroke="#1a1a1a" stroke-width="1"/>
<path d="M0,0 L-3.5,-2.2 L-3.5,2.2 Z" transform="translate(463,453.4) rotate(180)" fill="#1a1a1a" stroke="#1a1a1a" stroke-width="0.6"/><line x1="463" y1="453.4" x2="468.0" y2="453.4" stroke="#1a1a1a" stroke-width="1"/>
<path d="M0,0 L-3.5,-2.2 L-3.5,2.2 Z" transform="translate(520,453.4) rotate(0)" fill="#1a1a1a" stroke="#1a1a1a" stroke-width="0.6"/><line x1="520" y1="453.4" x2="515.0" y2="453.4" stroke="#1a1a1a" stroke-width="1"/>
<path d="M0,0 L-3.5,-2.2 L-3.5,2.2 Z" transform="translate(508,449.9) rotate(-135)" fill="#1a1a1a" stroke="#1a1a1a" stroke-width="0.6"/><line x1="508" y1="449.9" x2="511.5" y2="453.4" stroke="#1a1a1a" stroke-width="1"/>
<path d="M0,0 L-3.5,-2.2 L-3.5,2.2 Z" transform="translate(459,417) rotate(115)" fill="#1a1a1a" stroke="#1a1a1a" stroke-width="0.6"/><line x1="459" y1="417" x2="461.1" y2="412.5" stroke="#1a1a1a" stroke-width="1"/>
<path d="M0,0 L-3.5,-2.2 L-3.5,2.2 Z" transform="translate(525,417) rotate(65)" fill="#1a1a1a" stroke="#1a1a1a" stroke-width="0.6"/><line x1="525" y1="417" x2="522.9" y2="412.5" stroke="#1a1a1a" stroke-width="1"/>
<path d="M0,0 L-3.5,-2.2 L-3.5,2.2 Z" transform="translate(459,439) rotate(115)" fill="#1a1a1a" stroke="#1a1a1a" stroke-width="0.6"/><line x1="459" y1="439" x2="461.1" y2="434.5" stroke="#1a1a1a" stroke-width="1"/>
<path d="M0,0 L-3.5,-2.2 L-3.5,2.2 Z" transform="translate(525,439) rotate(65)" fill="#1a1a1a" stroke="#1a1a1a" stroke-width="0.6"/><line x1="525" y1="439" x2="522.9" y2="434.5" stroke="#1a1a1a" stroke-width="1"/>
<path d="M0,0 L-3.5,-2.2 L-3.5,2.2 Z" transform="translate(459,461.5) rotate(115)" fill="#1a1a1a" stroke="#1a1a1a" stroke-width="0.6"/><line x1="459" y1="461.5" x2="461.1" y2="457.0" stroke="#1a1a1a" stroke-width="1"/>
<path d="M0,0 L-3.5,-2.2 L-3.5,2.2 Z" transform="translate(525,461.5) rotate(65)" fill="#1a1a1a" stroke="#1a1a1a" stroke-width="0.6"/><line x1="525" y1="461.5" x2="522.9" y2="457.0" stroke="#1a1a1a" stroke-width="1"/>
<path d="M0,0 L-3.5,-2.2 L-3.5,2.2 Z" transform="translate(476,472.2) rotate(180)" fill="#1a1a1a" stroke="#1a1a1a" stroke-width="0.6"/><line x1="476" y1="472.2" x2="481.0" y2="472.2" stroke="#1a1a1a" stroke-width="1"/>
<path d="M0,0 L-3.5,-2.2 L-3.5,2.2 Z" transform="translate(507,472.2) rotate(0)" fill="#1a1a1a" stroke="#1a1a1a" stroke-width="0.6"/><line x1="507" y1="472.2" x2="502.0" y2="472.2" stroke="#1a1a1a" stroke-width="1"/>
<path d="M0,0 L-3.5,-2.2 L-3.5,2.2 Z" transform="translate(474,481) rotate(-55)" fill="#1a1a1a" stroke="#1a1a1a" stroke-width="0.6"/><line x1="474" y1="481" x2="471.1" y2="485.1" stroke="#1a1a1a" stroke-width="1"/>
<path d="M0,0 L-3.5,-2.2 L-3.5,2.2 Z" transform="translate(492,481) rotate(-90)" fill="#1a1a1a" stroke="#1a1a1a" stroke-width="0.6"/><line x1="492" y1="481" x2="492.0" y2="486.0" stroke="#1a1a1a" stroke-width="1"/>
<path d="M0,0 L-3.5,-2.2 L-3.5,2.2 Z" transform="translate(510,481) rotate(-125)" fill="#1a1a1a" stroke="#1a1a1a" stroke-width="0.6"/><line x1="510" y1="481" x2="512.9" y2="485.1" stroke="#1a1a1a" stroke-width="1"/>
<path d="M520.3,494 L524,482 L529,483 L525.5,495 Z" fill="#a8a8a8" stroke="#777" stroke-width="0.5"/>
<circle cx="492" cy="500" r="11" fill="#a9a9a9"/>
<path d="M537.8,504.7 V521.7 H536" fill="none" stroke="#777" stroke-width="0.8"/>
<path d="M204,398 V366 Q204,362 208,362 H469 Q473,362 473,366 V470" fill="none" stroke="#e09a1e" stroke-width="3.6"/>
<path d="M204,398 V368" fill="none" stroke="#f29e12" stroke-width="3.6"/>
<rect x="232.7" y="360.0" width="3" height="4" fill="#ffff00"/><rect x="254.0" y="360.0" width="3" height="4" fill="#ffff00"/><rect x="275.4" y="360.0" width="3" height="4" fill="#ffff00"/><rect x="296.9" y="360.0" width="3" height="4" fill="#ffff00"/><rect x="318.1" y="360.0" width="3" height="4" fill="#ffff00"/><rect x="339.5" y="360.0" width="3" height="4" fill="#ffff00"/><rect x="360.7" y="360.0" width="3" height="4" fill="#ffff00"/><rect x="382.1" y="360.0" width="3" height="4" fill="#ffff00"/><rect x="403.5" y="360.0" width="3" height="4" fill="#ffff00"/><rect x="424.9" y="360.0" width="3" height="4" fill="#ffff00"/><rect x="446.1" y="360.0" width="3" height="4" fill="#ffff00"/><rect x="468.0" y="360.0" width="3" height="4" fill="#ffff00"/><rect x="202.0" y="364.9" width="4" height="3" fill="#ffff00"/><rect x="202.0" y="386.1" width="4" height="3" fill="#ffff00"/><rect x="471.0" y="377.2" width="4" height="3" fill="#ffff00"/><rect x="471.0" y="399.0" width="4" height="3" fill="#ffff00"/><rect x="471.0" y="421.3" width="4" height="3" fill="#ffff00"/><rect x="471.0" y="443.3" width="4" height="3" fill="#ffff00"/><rect x="471.0" y="465.0" width="4" height="3" fill="#ffff00"/>
<rect x="627.3" y="475.6" width="34.2" height="3.3" fill="#bdbdbd"/><rect x="627.3" y="519" width="34.2" height="3.3" fill="#bdbdbd"/>
<rect x="619.8" y="483.1" width="3.3" height="33.8" fill="#bdbdbd"/>
<rect x="699.4" y="479.8" width="26.6" height="2.8" fill="#bdbdbd"/><rect x="699.4" y="516.4" width="26.6" height="2.8" fill="#bdbdbd"/>
<rect x="736" y="486.4" width="3.2" height="25.8" fill="#bdbdbd"/><rect x="700.3" y="495.8" width="4.2" height="7.5" fill="#b0b0b0"/>
<path d="M492,500 H624.5" fill="none" stroke="#111" stroke-width="10" stroke-linecap="butt" stroke-linejoin="round"/><path d="M492,500 H624.5" fill="none" stroke="#f0960a" stroke-width="8" stroke-linecap="butt" stroke-linejoin="round"/>
<path d="M487.8,498 V551 A4.2,4.2 0 0 0 496.2,551 V498" fill="#f0960a" stroke="#333" stroke-width="0.8"/>
<circle cx="492" cy="551" r="3.6" fill="none" stroke="#555" stroke-width="0.6"/>
<rect x="489.2" y="496.5" width="6" height="7" fill="#f0960a"/>
<path d="M543,173 H703.5 A10,10 0 0 1 713.5,183 V483.1" fill="none" stroke="#111" stroke-width="9.4" stroke-linecap="butt" stroke-linejoin="round"/><path d="M543,173 H703.5 A10,10 0 0 1 713.5,183 V483.1" fill="none" stroke="#f5deb0" stroke-width="7.4" stroke-linecap="butt" stroke-linejoin="round"/>
<path d="M543,233 H634.6 A10,10 0 0 1 644.6,243 V545.5 A13,13 0 0 0 657.6,558.5 H700 A13,13 0 0 0 713,545.5 V516.4" fill="none" stroke="#111" stroke-width="9.4" stroke-linecap="butt" stroke-linejoin="round"/><path d="M543,233 H634.6 A10,10 0 0 1 644.6,243 V545.5 A13,13 0 0 0 657.6,558.5 H700 A13,13 0 0 0 713,545.5 V516.4" fill="none" stroke="#f0960a" stroke-width="7" stroke-linecap="butt" stroke-linejoin="round"/>
<rect x="639.8" y="478" width="9.4" height="43" fill="#f0960a"/>
<rect x="649.2" y="478" width="1" height="43" fill="#c8c8c8"/>
<rect x="624.5" y="494.8" width="16" height="10.3" fill="#f0960a"/>
<path d="M624.5,494.8 H639.8 M624.5,505.1 H639.8" stroke="#c8c8c8" stroke-width="0.8"/>
<rect x="704.5" y="483" width="15.5" height="27" fill="#f5deb0"/>
<line x1="704.8" y1="489" x2="704.8" y2="510" stroke="#333" stroke-width="0.8"/>
<rect x="707.8" y="492" width="11.2" height="24.4" fill="#f0960a"/>
<rect x="720" y="487" width="15.5" height="25" fill="#f3e6c8" stroke="#c8c8c8" stroke-width="1"/>
<rect x="720" y="492" width="15.5" height="14" fill="#f5c070"/>
<rect x="711" y="494.4" width="10" height="11.2" fill="#b8a848"/>
<path d="M711,497 h10 M711,500 h10 M711,503 h10" stroke="#e8d890" stroke-width="0.8"/>
<rect x="721" y="496" width="6.5" height="8" fill="#2a2a2a"/>
<path d="M723,497 v6 M725.5,497 v6" stroke="#bbb" stroke-width="0.7"/>
<path d="M728,497 l5,3 l-5,3" fill="#9a7a30"/>
<path d="M735.5,500 H774.4" fill="none" stroke="#111" stroke-width="9.9" stroke-linecap="butt" stroke-linejoin="round"/><path d="M735.5,500 H774.4" fill="none" stroke="#fabb5e" stroke-width="7.5" stroke-linecap="butt" stroke-linejoin="round"/>
<path d="M773.5,512 H800 V563 Q800,569 786.7,569 Q773.5,569 773.5,563 Z" fill="url(#can)"/>
<path d="M804.2,512 H829.8 V563 Q829.8,569 817,569 Q804.2,569 804.2,563 Z" fill="url(#can)"/>
<line x1="786.7" y1="509" x2="786.7" y2="568" stroke="#3a3a3a" stroke-width="0.9"/>
<line x1="800" y1="512" x2="800" y2="566" stroke="#555" stroke-width="0.6"/>
<rect x="772" y="506.5" width="59" height="6" fill="#c6c6c6"/>
<rect x="774.4" y="491.9" width="46.4" height="15.4" fill="#c2c2c2"/>
<rect x="776" y="493.5" width="8" height="12" fill="#d2d2d2"/>
<rect x="772" y="489.3" width="6" height="3.5" fill="#9a9a9a"/><rect x="826" y="489.3" width="5.5" height="3.5" fill="#9a9a9a"/>
<rect x="820.8" y="491.9" width="10.4" height="20" fill="#c4c4c4"/>
<path d="M790.6,512 V501.3 H812.7 V512 H806.8 V506.9 H796.5 V512 Z" fill="#dedede" stroke="#aaa" stroke-width="0.5"/>
<rect x="796.5" y="506.9" width="10.3" height="5.1" fill="#fafafa"/>
<path d="M774,514 V563 M799.5,514 V563 M804.7,514 V563 M829.3,514 V563" stroke="#6a6a6a" stroke-width="0.8"/>
<path d="M820.8,500 H843.8 A14,14 0 0 1 857.8,514 V614.5 A12,12 0 0 1 845.8,626.5 H217.5 A12,12 0 0 1 205.5,614.5 V497.5" fill="none" stroke="#111" stroke-width="9.8" stroke-linecap="butt" stroke-linejoin="round"/><path d="M820.8,500 H843.8 A14,14 0 0 1 857.8,514 V614.5 A12,12 0 0 1 845.8,626.5 H217.5 A12,12 0 0 1 205.5,614.5 V497.5" fill="none" stroke="#fabb5e" stroke-width="7.4" stroke-linecap="butt" stroke-linejoin="round"/>
<rect x="543.9" y="169.1" width="5" height="7.8" fill="#ffff00"/><rect x="583.8" y="169.1" width="5" height="7.8" fill="#ffff00"/><rect x="623.5" y="169.1" width="5" height="7.8" fill="#ffff00"/><rect x="663.5" y="169.1" width="5" height="7.8" fill="#ffff00"/><rect x="709.6" y="177.5" width="7.8" height="5" fill="#ffff00"/><rect x="709.6" y="216.7" width="7.8" height="5" fill="#ffff00"/><rect x="709.6" y="256.5" width="7.8" height="5" fill="#ffff00"/><rect x="709.6" y="295.5" width="7.8" height="5" fill="#ffff00"/><rect x="709.6" y="335.5" width="7.8" height="5" fill="#ffff00"/><rect x="709.6" y="375.5" width="7.8" height="5" fill="#ffff00"/><rect x="709.6" y="415.5" width="7.8" height="5" fill="#ffff00"/><rect x="709.6" y="455.5" width="7.8" height="5" fill="#ffff00"/>
<rect x="588.5" y="229.1" width="5" height="7.8" fill="#ffff00"/><rect x="628.8" y="229.1" width="5" height="7.8" fill="#ffff00"/><rect x="640.7" y="278.3" width="7.8" height="5" fill="#ffff00"/><rect x="640.7" y="317.5" width="7.8" height="5" fill="#ffff00"/><rect x="640.7" y="357.5" width="7.8" height="5" fill="#ffff00"/><rect x="640.7" y="397.5" width="7.8" height="5" fill="#ffff00"/><rect x="640.7" y="437.5" width="7.8" height="5" fill="#ffff00"/><rect x="640.7" y="476.6" width="7.8" height="5" fill="#ffff00"/><rect x="640.7" y="517.4" width="7.8" height="5" fill="#ffff00"/><rect x="650.9" y="554.6" width="5" height="7.8" fill="#ffff00"/><rect x="709.1" y="546.8" width="7.8" height="5" fill="#ffff00"/><rect x="493.5" y="496.1" width="5" height="7.8" fill="#ffff00"/><rect x="552.5" y="496.1" width="5" height="7.8" fill="#ffff00"/><rect x="605.9" y="496.1" width="5" height="7.8" fill="#ffff00"/><rect x="735.8" y="496.1" width="5" height="7.8" fill="#ffff00"/><rect x="783.0" y="496.40000000000003" width="5" height="7.8" fill="#ffff00"/><rect x="821.7" y="496.40000000000003" width="5" height="7.8" fill="#ffff00"/>
<rect x="853.9" y="507.9" width="7.8" height="5" fill="#ffff00"/><rect x="853.9" y="546.9" width="7.8" height="5" fill="#ffff00"/><rect x="853.9" y="586.8" width="7.8" height="5" fill="#ffff00"/><rect x="848.9" y="622.6" width="5" height="7.8" fill="#ffff00"/><rect x="247.2" y="622.6" width="5" height="7.8" fill="#ffff00"/><rect x="282.55" y="622.6" width="5" height="7.8" fill="#ffff00"/><rect x="317.9" y="622.6" width="5" height="7.8" fill="#ffff00"/><rect x="353.25" y="622.6" width="5" height="7.8" fill="#ffff00"/><rect x="388.6" y="622.6" width="5" height="7.8" fill="#ffff00"/><rect x="423.95" y="622.6" width="5" height="7.8" fill="#ffff00"/><rect x="459.3" y="622.6" width="5" height="7.8" fill="#ffff00"/><rect x="494.65" y="622.6" width="5" height="7.8" fill="#ffff00"/><rect x="530.0" y="622.6" width="5" height="7.8" fill="#ffff00"/><rect x="565.35" y="622.6" width="5" height="7.8" fill="#ffff00"/><rect x="600.7" y="622.6" width="5" height="7.8" fill="#ffff00"/><rect x="636.05" y="622.6" width="5" height="7.8" fill="#ffff00"/><rect x="671.4000000000001" y="622.6" width="5" height="7.8" fill="#ffff00"/><rect x="706.75" y="622.6" width="5" height="7.8" fill="#ffff00"/><rect x="742.1" y="622.6" width="5" height="7.8" fill="#ffff00"/><rect x="777.45" y="622.6" width="5" height="7.8" fill="#ffff00"/><rect x="812.8" y="622.6" width="5" height="7.8" fill="#ffff00"/><rect x="201.6" y="522.5" width="7.8" height="5" fill="#ffff00"/><rect x="201.6" y="553.1" width="7.8" height="5" fill="#ffff00"/><rect x="201.6" y="582.8" width="7.8" height="5" fill="#ffff00"/><rect x="201.6" y="612.8" width="7.8" height="5" fill="#ffff00"/>
</svg>
</body></html>
